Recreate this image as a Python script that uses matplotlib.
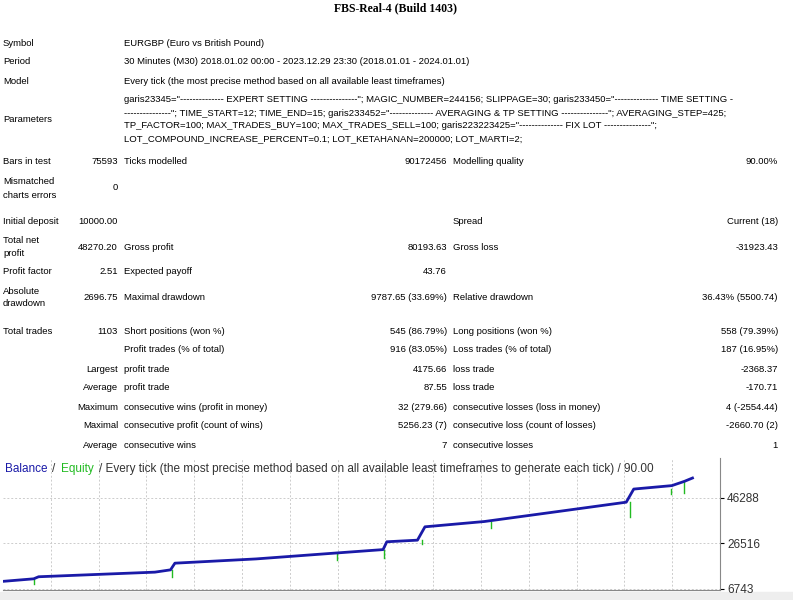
import matplotlib
matplotlib.use("Agg")
import matplotlib.pyplot as plt

# ---- data ----
bal_trade = [0, 49, 57, 243, 268, 275, 405, 527, 608, 614, 663, 675, 770, 892, 997, 1009, 1070, 1090, 1103]
bal_value = [9900, 11000, 11900, 13900, 14900, 17800, 19650, 22100, 23700, 27100, 27800, 33600, 35900, 40400, 44300, 50000, 51500, 53350, 54800]
dip_trade = [49, 271, 534, 610, 671, 780, 1003, 1068, 1090]
dip_value = [8600, 11600, 19100, 20000, 26000, 33300, 37900, 47900, 48300]
yticks = [6743, 26516, 46288]

W, H = 793, 600
fig = plt.figure(figsize=(W/100, H/100), dpi=100)
FONT = "Liberation Sans"
FS = 6.8

def t(x, y, s, ha="left", **kw):
    fig.text(x/W, 1-y/H, s, ha=ha, va="center", fontsize=kw.pop("fs", FS), family=kw.pop("family", FONT), **kw)

t(396, 8, "FBS-Real-4 (Build 1403)", ha="center", fs=8.5, family="Liberation Serif", weight="bold")
t(3, 43, "Symbol"); t(124, 43, "EURGBP (Euro vs British Pound)")
t(3, 62, "Period"); t(124, 62, "30 Minutes (M30) 2018.01.02 00:00 - 2023.12.29 23:30 (2018.01.01 - 2024.01.01)")
t(3, 81, "Model"); t(124, 81, "Every tick (the most precise method based on all available least timeframes)")
t(3, 119, "Parameters")
params = ['garis23345="-------------- EXPERT SETTING ---------------"; MAGIC_NUMBER=244156; SLIPPAGE=30; garis233450="-------------- TIME SETTING -',
          '---------------"; TIME_START=12; TIME_END=15; garis233452="-------------- AVERAGING & TP SETTING ---------------"; AVERAGING_STEP=425;',
          'TP_FACTOR=100; MAX_TRADES_BUY=100; MAX_TRADES_SELL=100; garis223223425="-------------- FIX LOT ---------------";',
          'LOT_COMPOUND_INCREASE_PERCENT=0.1; LOT_KETAHANAN=200000; LOT_MARTI=2;']
for i, p in enumerate(params):
    t(124, 100 + 13*i, p)

R1, C2, R2, C3, R3 = 118, 124, 447, 453, 778
t(3, 162, "Bars in test"); t(R1, 162, "75593", ha="right"); t(C2, 162, "Ticks modelled"); t(R2, 162, "90172456", ha="right")
t(C3, 162, "Modelling quality"); t(R3, 162, "90.00%", ha="right")
t(3, 182, "Mismatched"); t(3, 195, "charts errors"); t(R1, 188, "0", ha="right")
t(3, 222, "Initial deposit"); t(R1, 222, "10000.00", ha="right"); t(C3, 222, "Spread"); t(R3, 222, "Current (18)", ha="right")
t(3, 241, "Total net"); t(3, 254, "profit"); t(R1, 247, "48270.20", ha="right"); t(C2, 247, "Gross profit"); t(R2, 247, "80193.63", ha="right")
t(C3, 247, "Gross loss"); t(R3, 247, "-31923.43", ha="right")
t(3, 271, "Profit factor"); t(R1, 271, "2.51", ha="right"); t(C2, 271, "Expected payoff"); t(R2, 271, "43.76", ha="right")
t(3, 291, "Absolute"); t(3, 304, "drawdown"); t(R1, 297, "2696.75", ha="right"); t(C2, 297, "Maximal drawdown"); t(R2, 297, "9787.65 (33.69%)", ha="right")
t(C3, 297, "Relative drawdown"); t(R3, 297, "36.43% (5500.74)", ha="right")
rows = [
    (331, "Total trades", "1103", "Short positions (won %)", "545 (86.79%)", "Long positions (won %)", "558 (79.39%)"),
    (350, "", "", "Profit trades (% of total)", "916 (83.05%)", "Loss trades (% of total)", "187 (16.95%)"),
    (369, "Largest", "", "profit trade", "4175.66", "loss trade", "-2368.37"),
    (388, "Average", "", "profit trade", "87.55", "loss trade", "-170.71"),
    (407, "Maximum", "", "consecutive wins (profit in money)", "32 (279.66)", "consecutive losses (loss in money)", "4 (-2554.44)"),
    (426, "Maximal", "", "consecutive profit (count of wins)", "5256.23 (7)", "consecutive loss (count of losses)", "-2660.70 (2)"),
    (445, "Average", "", "consecutive wins", "7", "consecutive losses", "1"),
]
for y, a, b, c, d, e, f in rows:
    if a == "Total trades":
        t(3, y, a); t(R1, y, b, ha="right")
    elif a:
        t(R1, y, a, ha="right")
    t(C2, y, c); t(R2, y, d, ha="right"); t(C3, y, e); t(R3, y, f, ha="right")

# ---- chart ----
ax = fig.add_axes([3/W, 1-590/H, (720-3)/W, (590-458)/H])
ax.set_xlim(0, 1147)
ax.set_ylim(6743 - 600, 63500)
for tr, v in zip(dip_trade, dip_value):
    i = max(k for k in range(len(bal_trade)) if bal_trade[k] <= tr)
    ax.plot([tr, tr], [v, bal_value[i]], color="#22bb22", lw=1)
ax.plot(bal_trade, bal_value, color="#1a1aa8", lw=2, drawstyle="default")
ax.set_yticks(yticks)
ax.set_yticklabels([str(v) for v in yticks], family=FONT, fontsize=8.5, color="#333333")
ax.yaxis.tick_right()
ax.tick_params(axis="y", length=3, pad=2)
ax.set_xticks([i*1147/15 for i in range(1, 15)])
ax.tick_params(axis="x", labelbottom=False, length=0)
ax.grid(True, color="#cccccc", ls=(0, (2, 2)), lw=0.7)
for s in ["top", "left"]:
    ax.spines[s].set_visible(False)
ax.spines["right"].set_color("#888888"); ax.spines["bottom"].set_color("#888888")
fig.text(5/W, 1-469/H, "Balance", color="#1a1aa8", fontsize=8.5, family=FONT, va="center")
fig.text(52/W, 1-469/H, "/", color="#333333", fontsize=8.5, family=FONT, va="center")
fig.text(61/W, 1-469/H, "Equity", color="#22bb22", fontsize=8.5, family=FONT, va="center")
fig.text(99/W, 1-469/H, "/ Every tick (the most precise method based on all available least timeframes to generate each tick) / 90.00",
         color="#333333", fontsize=8.5, family=FONT, va="center", clip_on=True)
fig.patches.append(plt.Rectangle((0, 0), 1, 8/H, transform=fig.transFigure, color="#eeeeee", zorder=-1))
fig.savefig("out.png", dpi=100)
